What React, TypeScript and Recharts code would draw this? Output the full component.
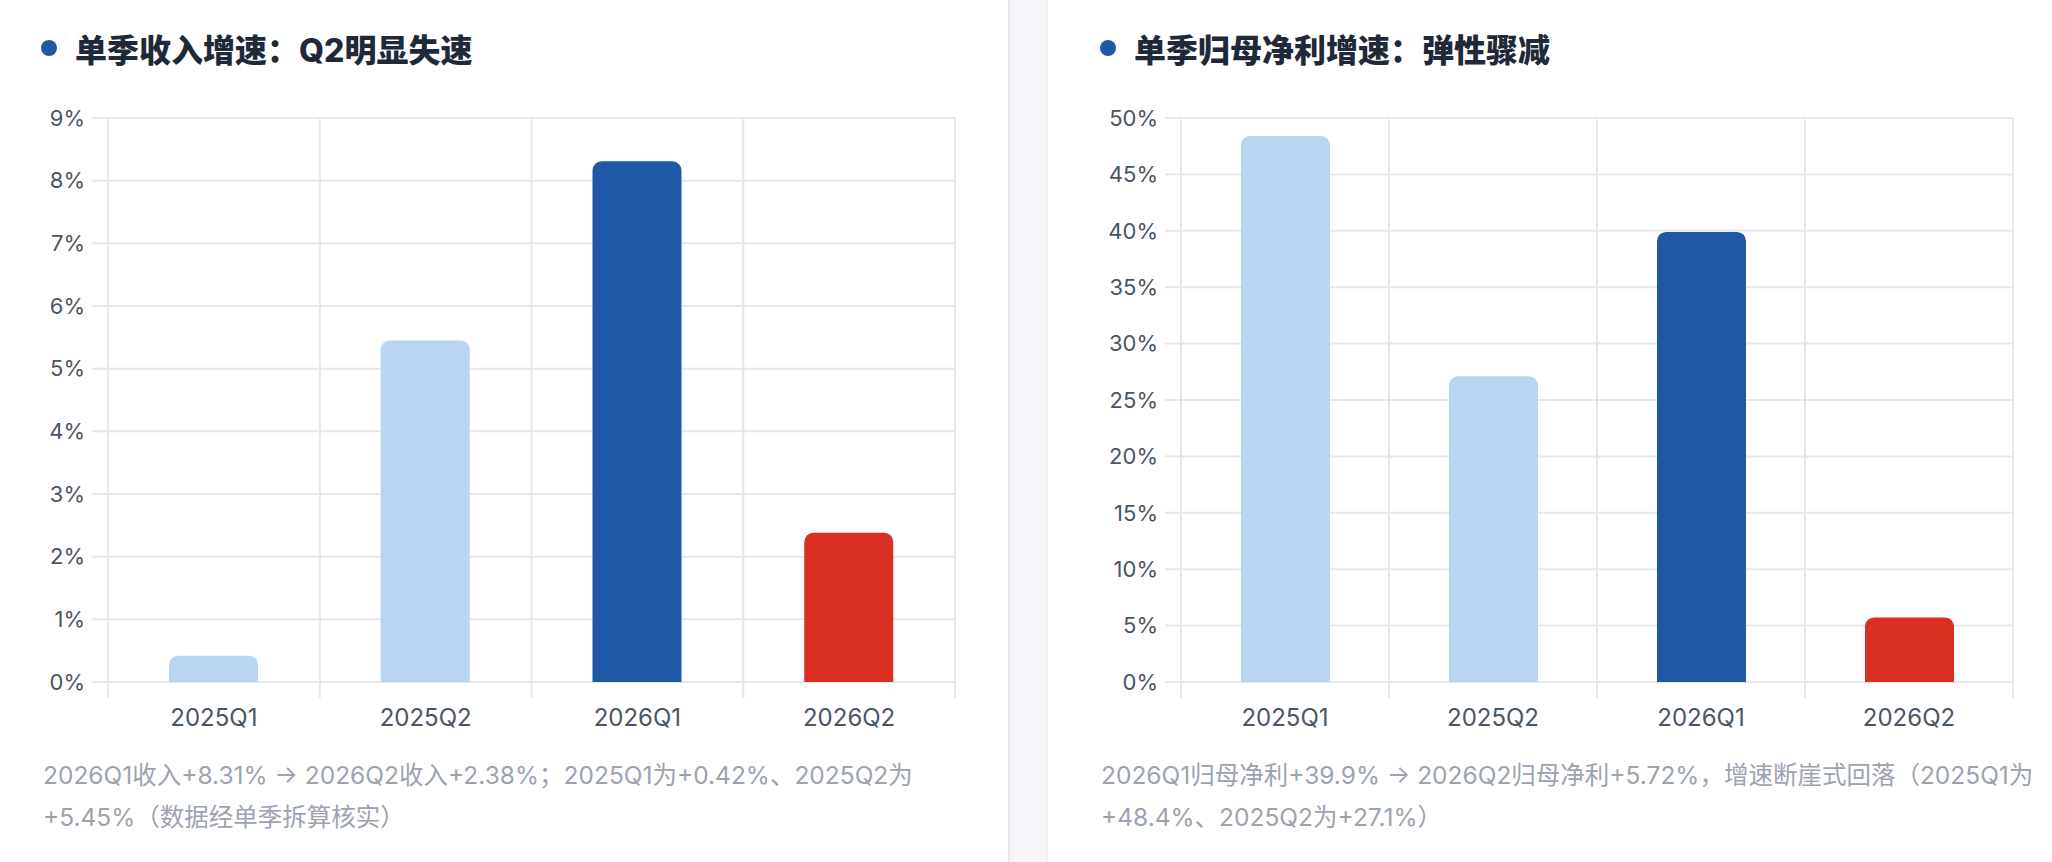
import { BarChart, Bar, XAxis, YAxis, CartesianGrid, Cell } from 'recharts';

const quarters = ['2025Q1', '2025Q2', '2026Q1', '2026Q2'];
const revenueGrowth = [0.42, 5.45, 8.31, 2.38];
const profitGrowth = [48.4, 27.1, 39.9, 5.72];
const revenueTicks = [0, 1, 2, 3, 4, 5, 6, 7, 8, 9];
const profitTicks = [0, 5, 10, 15, 20, 25, 30, 35, 40, 45, 50];

const barColors = ['#bad5f1', '#bad5f1', '#1f59a5', '#d92e22'];
const GRID = '#e5e7eb';
const FONT = 'Inter, "Noto Sans CJK SC", "Noto Sans", sans-serif';

const revenueData = quarters.map((q, i) => ({ name: q, value: revenueGrowth[i] }));
const profitData = quarters.map((q, i) => ({ name: q, value: profitGrowth[i] }));

// category boundaries instead of centres, like the original
const boundaryLines = ({ offset }: any) =>
  quarters.map((_, i) => offset.left + (i * offset.width) / quarters.length).concat(offset.left + offset.width);

function QuarterTick(props: any) {
  const { x, y, payload, index, step } = props;
  const axisY = y - 27;
  return (
    <g>
      <line x1={x - step / 2} x2={x - step / 2} y1={axisY} y2={axisY + 16} stroke={GRID} strokeWidth={2} />
      {index === quarters.length - 1 && (
        <line x1={x + step / 2} x2={x + step / 2} y1={axisY} y2={axisY + 16} stroke={GRID} strokeWidth={2} />
      )}
      <text x={x} y={y} dy="0.71em" textAnchor="middle" fill="#4b5563" fontSize={24}>
        {payload.value}
      </text>
    </g>
  );
}

function GrowthChart({ data, ticks, width, left, yWidth, right }: any) {
  const plotWidth = width - left - yWidth - right;
  const step = plotWidth / quarters.length;
  return (
    <BarChart width={width} height={650} data={data} margin={{ top: 18, right, bottom: 18, left }}>
      <CartesianGrid stroke={GRID} strokeWidth={2} verticalCoordinatesGenerator={boundaryLines} />
      <XAxis
        dataKey="name"
        height={50}
        tickSize={16}
        tickMargin={11}
        tickLine={false}
        axisLine={false}
        interval={0}
        tick={<QuarterTick step={step} />}
      />
      <YAxis
        width={yWidth}
        domain={[0, ticks[ticks.length - 1]]}
        ticks={ticks}
        interval={0}
        tickFormatter={(v: number) => `${v}%`}
        tickSize={16}
        tickMargin={7}
        tickLine={{ stroke: GRID, strokeWidth: 2 }}
        axisLine={false}
        tick={{ fill: '#4b5563', fontSize: 22 }}
      />
      <Bar dataKey="value" barSize={89} radius={[9, 9, 0, 0]} isAnimationActive={false}>
        {data.map((_: any, i: number) => (
          <Cell key={i} fill={barColors[i]} />
        ))}
      </Bar>
    </BarChart>
  );
}

function Title({ text, x }: { text: string; x: number }) {
  return (
    <div style={{ position: 'absolute', left: x, top: 28, height: 40, display: 'flex', alignItems: 'center' }}>
      <span style={{ width: 16, height: 16, borderRadius: 8, background: '#1f59a5', marginRight: 18 }} />
      <span style={{ fontSize: 32, fontWeight: 800, color: '#1f2937' }}>{text}</span>
    </div>
  );
}

const noteStyle: any = { position: 'absolute', top: 754, fontSize: 24.5, lineHeight: '42px', color: '#9ca3af', whiteSpace: 'nowrap' };

export default function App() {
  return (
    <div style={{ position: 'fixed', left: 0, top: 0, width: 2052, height: 862, background: '#f5f6fa', fontFamily: FONT, overflow: 'hidden' }}>
      <div style={{ position: 'absolute', left: 0, top: 0, width: 1008, height: 862, background: '#fff', borderRight: '2px solid #e6e8ec' }} />
      <div style={{ position: 'absolute', left: 1047, top: 0, width: 1005, height: 862, background: '#fff', borderLeft: '1px solid #eef0f4' }} />

      <Title text="单季收入增速：Q2明显失速" x={41} />
      <div style={{ position: 'absolute', left: 0, top: 100 }}>
        <GrowthChart data={revenueData} ticks={revenueTicks} width={1000} left={48} yWidth={60} right={45} />
      </div>
      <div style={{ ...noteStyle, left: 43 }}>
        2026Q1收入+8.31% → 2026Q2收入+2.38%；2025Q1为+0.42%、2025Q2为
        <br />
        +5.45%（数据经单季拆算核实）
      </div>

      <Title text="单季归母净利增速：弹性骤减" x={1100} />
      <div style={{ position: 'absolute', left: 1047, top: 100 }}>
        <GrowthChart data={profitData} ticks={profitTicks} width={1005} left={54} yWidth={80} right={39} />
      </div>
      <div style={{ ...noteStyle, left: 1101 }}>
        2026Q1归母净利+39.9% → 2026Q2归母净利+5.72%，增速断崖式回落（2025Q1为
        <br />
        +48.4%、2025Q2为+27.1%）
      </div>
    </div>
  );
}
